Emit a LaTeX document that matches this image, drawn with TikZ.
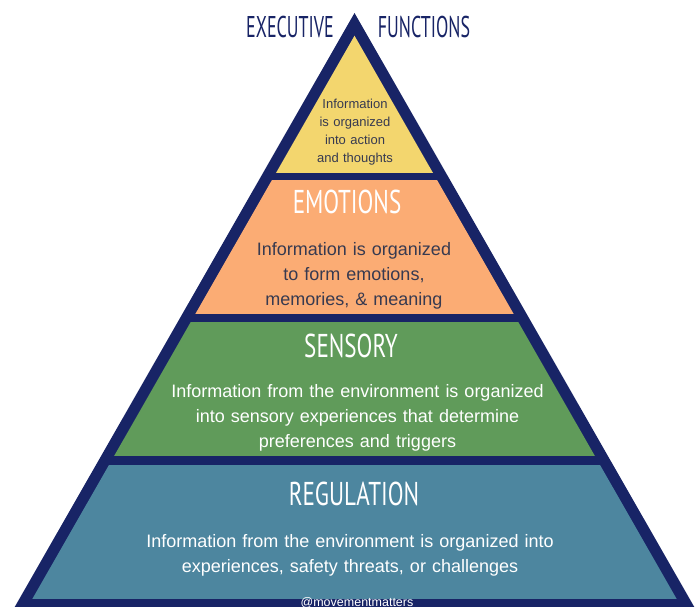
\documentclass[tikz,border=0pt]{standalone}
\usepackage{fontspec}
\setmainfont{Liberation Sans}
\newfontfamily\headfont[FakeStretch=0.7]{PT Sans}
\newfontfamily\topfont[FakeStretch=0.6]{PT Sans}

\definecolor{pyrnavy}{RGB}{24,36,102}
\definecolor{pyryellow}{RGB}{243,214,110}
\definecolor{pyrorange}{RGB}{251,172,116}
\definecolor{pyrgreen}{RGB}{96,155,90}
\definecolor{pyrblue}{RGB}{77,134,159}
\definecolor{pyrtext}{RGB}{55,58,80}

\tikzset{
  level title/.style={text=white, font=\headfont\fontsize{33}{33}\selectfont, anchor=base, inner sep=0pt},
  top title/.style={text=pyrnavy, font=\topfont\fontsize{30}{30}\selectfont, anchor=base, inner sep=0pt},
  level text/.style={font=\fontsize{18}{25}\selectfont, align=center, anchor=base, inner sep=0pt, text width=460pt},
}

\begin{document}
\begin{tikzpicture}[x=1pt,y=-1pt]
  % We will draw the pyramid here
  \useasboundingbox (0,0) rectangle (696,607);
  \fill[pyrnavy] (354.5,13) -- (694.3,607) -- (14.7,607) -- cycle;

  % the four levels, cut out of the inner triangle
  \begin{scope}
    \clip (354.5,35.7) -- (676.7,599) -- (32.3,599) -- cycle;
    \fill[pyryellow] (0,0) rectangle (696,173);
    \fill[pyrorange] (0,180) rectangle (696,314);
    \fill[pyrgreen] (0,322) rectangle (696,456);
    \fill[pyrblue] (0,465) rectangle (696,599);
  \end{scope}

  % top titles
  \node[top title] (exec) at (290,38) {EXECUTIVE};
  \node[top title] (func) at (424,38) {FUNCTIONS};

  \node[level text, text=pyrtext, font=\fontsize{13}{17.7}\selectfont, text width=120pt] (actiontext) at (355,109)
    {Information\\is organized\\into action\\and thoughts};

  \node[level title] (emotitle) at (347,213) {EMOTIONS};
  \node[level text, text=pyrtext] (emotext) at (354,255)
    {Information is organized\\to form emotions,\\memories, \& meaning};

  \node[level title] (senstitle) at (351,357) {SENSORY};
  \node[level text, text=white] (senstext) at (357.5,397)
    {Information from the environment is organized\\into sensory experiences that determine\\preferences and triggers};

  \node[level title] (regtitle) at (354,505) {REGULATION};
  \node[level text, text=white] (regtext) at (350,547)
    {Information from the environment is organized into\\experiences, safety threats, or challenges};

  \node[text=white, font=\fontsize{12.5}{12.5}\selectfont, anchor=base, inner sep=0pt] (tag) at (357,606) {@movementmatters};
\end{tikzpicture}
\end{document}
